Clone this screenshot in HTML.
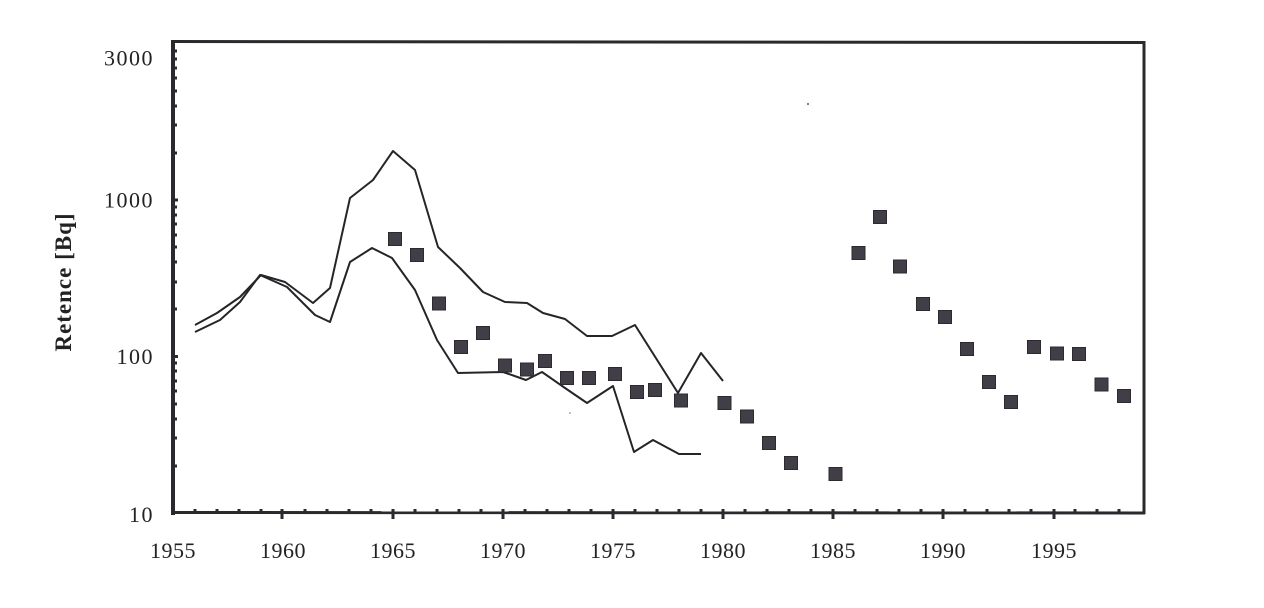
<!DOCTYPE html>
<html>
<head>
<meta charset="utf-8">
<style>
html,body{margin:0;padding:0;background:#fff;}
svg{display:block;}
text{font-family:"Liberation Serif",serif;fill:#222;}
</style>
</head>
<body>
<svg width="1264" height="608" viewBox="0 0 1264 608" xmlns="http://www.w3.org/2000/svg">
<rect width="1264" height="608" fill="#fff"/>
<!-- frame -->
<line x1="172" y1="41.5" x2="1144" y2="42.5" stroke="#2a2a2e" stroke-width="3"/>
<line x1="1144" y1="41" x2="1144" y2="514" stroke="#2a2a2e" stroke-width="3"/>
<line x1="172" y1="512.5" x2="1145" y2="513" stroke="#2a2a2e" stroke-width="3"/>
<line x1="173" y1="40" x2="173" y2="515" stroke="#2a2a2e" stroke-width="4"/>
<!-- y minor ticks -->
<g stroke="#2a2a2e" stroke-width="3">
<line x1="174" y1="466" x2="177" y2="466"/><line x1="174" y1="438" x2="177" y2="438"/><line x1="174" y1="419" x2="177" y2="419"/><line x1="174" y1="404" x2="177" y2="404"/><line x1="174" y1="391" x2="177" y2="391"/><line x1="174" y1="381" x2="177" y2="381"/><line x1="174" y1="371" x2="177" y2="371"/><line x1="174" y1="363" x2="177" y2="363"/>
<line x1="174" y1="356.5" x2="178" y2="356.5"/>
<line x1="174" y1="309" x2="177" y2="309"/><line x1="174" y1="282" x2="177" y2="282"/><line x1="174" y1="262" x2="177" y2="262"/><line x1="174" y1="247" x2="177" y2="247"/><line x1="174" y1="235" x2="177" y2="235"/><line x1="174" y1="224" x2="177" y2="224"/><line x1="174" y1="215" x2="177" y2="215"/><line x1="174" y1="207" x2="177" y2="207"/>
<line x1="174" y1="200" x2="178" y2="200"/>
<line x1="174" y1="153" x2="177" y2="153"/><line x1="174" y1="125" x2="177" y2="125"/><line x1="174" y1="106" x2="177" y2="106"/><line x1="174" y1="91" x2="177" y2="91"/><line x1="174" y1="78" x2="177" y2="78"/><line x1="174" y1="68" x2="177" y2="68"/><line x1="174" y1="59" x2="177" y2="59"/><line x1="174" y1="51" x2="177" y2="51"/>
</g>
<!-- x ticks -->
<g stroke="#2a2a2e" stroke-width="3">
<line x1="195" y1="509" x2="195" y2="512"/><line x1="217" y1="509" x2="217" y2="512"/><line x1="239" y1="509" x2="239" y2="512"/><line x1="261" y1="509" x2="261" y2="512"/>
<line x1="305" y1="509" x2="305" y2="512"/><line x1="327" y1="509" x2="327" y2="512"/><line x1="349" y1="509" x2="349" y2="512"/><line x1="371" y1="509" x2="371" y2="512"/>
<line x1="415" y1="509" x2="415" y2="512"/><line x1="437" y1="509" x2="437" y2="512"/><line x1="459" y1="509" x2="459" y2="512"/><line x1="481" y1="509" x2="481" y2="512"/>
<line x1="525" y1="509" x2="525" y2="512"/><line x1="547" y1="509" x2="547" y2="512"/><line x1="569" y1="509" x2="569" y2="512"/><line x1="591" y1="509" x2="591" y2="512"/>
<line x1="635" y1="509" x2="635" y2="512"/><line x1="657" y1="509" x2="657" y2="512"/><line x1="679" y1="509" x2="679" y2="512"/><line x1="701" y1="509" x2="701" y2="512"/>
<line x1="745" y1="509" x2="745" y2="512"/><line x1="767" y1="509" x2="767" y2="512"/><line x1="789" y1="509" x2="789" y2="512"/><line x1="811" y1="509" x2="811" y2="512"/>
<line x1="855" y1="509" x2="855" y2="512"/><line x1="877" y1="509" x2="877" y2="512"/><line x1="899" y1="509" x2="899" y2="512"/><line x1="921" y1="509" x2="921" y2="512"/>
<line x1="965" y1="509" x2="965" y2="512"/><line x1="987" y1="509" x2="987" y2="512"/><line x1="1009" y1="509" x2="1009" y2="512"/><line x1="1031" y1="509" x2="1031" y2="512"/>
<line x1="1075" y1="509" x2="1075" y2="512"/><line x1="1097" y1="509" x2="1097" y2="512"/><line x1="1119" y1="509" x2="1119" y2="512"/>
<line x1="282" y1="509" x2="282" y2="519"/><line x1="393" y1="509" x2="393" y2="519"/><line x1="503" y1="509" x2="503" y2="519"/><line x1="613" y1="509" x2="613" y2="519"/><line x1="723" y1="509" x2="723" y2="519"/><line x1="833" y1="509" x2="833" y2="519"/><line x1="943" y1="509" x2="943" y2="519"/><line x1="1054" y1="509" x2="1054" y2="519"/>
</g>
<!-- y labels -->
<g font-size="22" text-anchor="end" letter-spacing="1.5">
<text x="154" y="65.5">3000</text>
<text x="154" y="207.5">1000</text>
<text x="154" y="364">100</text>
<text x="154" y="522">10</text>
</g>
<!-- x labels -->
<g font-size="22" text-anchor="middle" letter-spacing="0.5">
<text x="173" y="558">1955</text>
<text x="283" y="558">1960</text>
<text x="393" y="558">1965</text>
<text x="503" y="558">1970</text>
<text x="613" y="558">1975</text>
<text x="723" y="558">1980</text>
<text x="833" y="558">1985</text>
<text x="943" y="558">1990</text>
<text x="1054" y="558">1995</text>
</g>
<!-- y axis title -->
<text transform="translate(71,282) rotate(-90)" font-size="23" font-weight="bold" text-anchor="middle" letter-spacing="1">Retence [Bq]</text>
<!-- lines -->
<polyline fill="none" stroke="#262428" stroke-width="2" stroke-linejoin="round" points="195,325 217,313 240,297 261,275 285,282 313,303 330,288 350,198 373,180 393,151 415,170 438,247 460,268 483,292 505,302 527,303 543,313 565,319 587,336 612,336 635,325 678,393 701,353 723,381"/>
<polyline fill="none" stroke="#262428" stroke-width="2" stroke-linejoin="round" points="195,332 220,320 240,302 260,275 287,287 315,315 330,322 350,262 372,248 392,258 415,290 437,340 458,373 503,372 526,380 542,372 565,388 587,403 613,386 634,452 653,440 679,454 701,454"/>
<!-- squares -->
<g fill="#413e48" stroke="#2c2a30" stroke-width="1">
<rect x="388.5" y="232.5" width="13" height="13"/>
<rect x="410.5" y="248.5" width="13" height="13"/>
<rect x="432.5" y="297" width="13" height="13"/>
<rect x="454.5" y="340.5" width="13" height="13"/>
<rect x="476.5" y="326.5" width="13" height="13"/>
<rect x="498.5" y="359" width="13" height="13"/>
<rect x="520.5" y="363" width="13" height="13"/>
<rect x="538.5" y="354.5" width="13" height="13"/>
<rect x="560.5" y="371.5" width="13" height="13"/>
<rect x="582.5" y="371.5" width="13" height="13"/>
<rect x="608.5" y="367.5" width="13" height="13"/>
<rect x="630.5" y="385.5" width="13" height="13"/>
<rect x="648.5" y="383.5" width="13" height="13"/>
<rect x="674.5" y="394" width="13" height="13"/>
<rect x="718" y="396.5" width="13" height="13"/>
<rect x="740.5" y="410" width="13" height="13"/>
<rect x="762.5" y="436.5" width="13" height="13"/>
<rect x="784.5" y="456.5" width="13" height="13"/>
<rect x="829" y="467.5" width="13" height="13"/>
<rect x="852" y="246.5" width="13" height="13"/>
<rect x="873.5" y="210.5" width="13" height="13"/>
<rect x="893.5" y="260" width="13" height="13"/>
<rect x="916.5" y="297.5" width="13" height="13"/>
<rect x="938.5" y="310.5" width="13" height="13"/>
<rect x="960.5" y="342.5" width="13" height="13"/>
<rect x="982.5" y="375.5" width="13" height="13"/>
<rect x="1004.5" y="395.5" width="13" height="13"/>
<rect x="1027.5" y="340.5" width="13" height="13"/>
<rect x="1050.5" y="347" width="13" height="13"/>
<rect x="1072.5" y="347.5" width="13" height="13"/>
<rect x="1095" y="378" width="13" height="13"/>
<rect x="1117.5" y="389.5" width="13" height="13"/>
</g>
<!-- specks -->
<circle cx="808" cy="104" r="1" fill="#555"/>
<circle cx="570" cy="413" r="0.8" fill="#777"/>
</svg>
</body>
</html>
